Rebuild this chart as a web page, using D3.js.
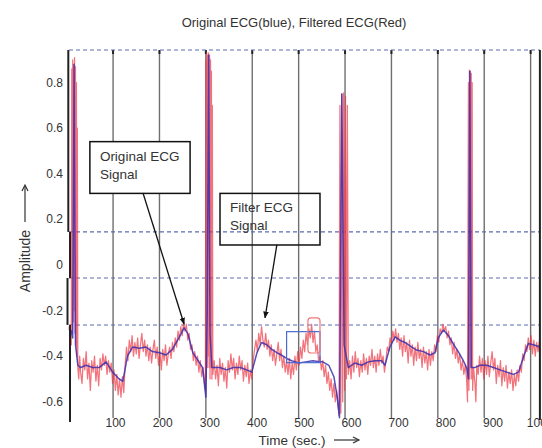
<!DOCTYPE html>
<html><head><meta charset="utf-8">
<script src="https://cdn.jsdelivr.net/npm/d3@7"></script>
<style>body{margin:0;background:#fff}svg{display:block}text{font-family:"Liberation Sans",Arial,sans-serif;fill:#333}</style>
</head><body><svg id="c" width="542" height="448"></svg>
<script>
const xTicks=[100,200,300,400,500,600,700,800,900,1000];
const yTicks=[0.8,0.6,0.4,0.2,0,-0.2,-0.4,-0.6];
const levels=[0.943,0.145,-0.057,-0.263];
const title="Original ECG(blue), Filtered ECG(Red)";
const xLabel="Time (sec.)";
const yLabel="Amplitude";
// original ECG (blue): [time, amplitude]
const blue=[[5,-0.28],[10,-0.29],[13,-0.32],[16,0.88],[19,-0.35],[24,-0.44],[30,-0.45],[42,-0.44],[56,-0.45],[70,-0.45],[85,-0.425],[99,-0.47],[113,-0.50],[121,-0.51],[131,-0.40],[142,-0.36],[157,-0.365],[171,-0.36],[185,-0.38],[200,-0.385],[214,-0.395],[228,-0.37],[243,-0.315],[253,-0.276],[261,-0.30],[272,-0.385],[282,-0.415],[293,-0.45],[300,-0.58],[303,-0.2],[306,0.92],[309,-0.3],[313,-0.45],[330,-0.45],[345,-0.46],[359,-0.45],[374,-0.45],[388,-0.46],[399,-0.47],[410,-0.386],[420,-0.34],[431,-0.35],[442,-0.37],[453,-0.385],[463,-0.395],[474,-0.41],[485,-0.42],[500,-0.43],[515,-0.425],[530,-0.42],[546,-0.424],[551,-0.424],[565,-0.44],[576,-0.49],[583,-0.578],[588,-0.67],[593,0.75],[598,-0.35],[607,-0.45],[621,-0.43],[636,-0.44],[650,-0.425],[665,-0.42],[679,-0.42],[686,-0.44],[697,-0.358],[708,-0.315],[718,-0.33],[729,-0.34],[740,-0.355],[754,-0.373],[769,-0.38],[783,-0.395],[794,-0.385],[801,-0.32],[812,-0.285],[823,-0.31],[833,-0.345],[844,-0.38],[855,-0.42],[862,-0.45],[866,-0.5],[869,0.85],[872,-0.45],[880,-0.45],[891,-0.44],[905,-0.44],[920,-0.45],[934,-0.46],[948,-0.47],[963,-0.48],[974,-0.47],[985,-0.40],[995,-0.345],[1006,-0.35],[1020,-0.36]];
// filtered ECG (red): [time, amplitude]
const red=[[5,-0.27],[7,-0.30],[9,-0.26],[10,-0.35],[11,0.86],[12,-0.30],[13,0.90],[14,-0.25],[15,0.88],[16,-0.20],[17,0.91],[18,-0.30],[19,0.87],[20,-0.35],[21,0.80],[22,-0.40],[23,0.6],[24,-0.45],
[26,-0.50],[28,-0.40],[30,-0.47],[33,-0.52],[36,-0.41],[39,-0.46],[42,-0.38],[45,-0.50],[48,-0.43],[51,-0.55],[54,-0.42],[57,-0.47],[60,-0.40],[63,-0.51],[66,-0.44],[69,-0.53],[72,-0.41],[75,-0.46],[78,-0.39],[81,-0.44],[84,-0.40],[87,-0.48],[90,-0.42],[93,-0.47],[96,-0.43],[99,-0.52],[102,-0.46],[105,-0.55],[108,-0.48],[111,-0.57],[114,-0.50],[117,-0.58],[120,-0.49],[123,-0.56],[126,-0.44],[129,-0.36],[132,-0.42],[135,-0.33],[138,-0.38],[141,-0.31],[144,-0.40],[147,-0.34],[150,-0.39],[153,-0.32],[156,-0.41],[159,-0.35],[162,-0.30],[165,-0.38],[168,-0.33],[171,-0.40],[174,-0.35],[177,-0.42],[180,-0.36],[183,-0.43],[186,-0.37],[189,-0.33],[192,-0.41],[195,-0.36],[198,-0.44],[201,-0.38],[204,-0.46],[207,-0.37],[210,-0.42],[213,-0.35],[216,-0.44],[219,-0.39],[222,-0.36],[225,-0.41],[228,-0.34],[231,-0.38],[234,-0.32],[237,-0.36],[240,-0.29],[243,-0.33],[246,-0.27],[249,-0.31],[252,-0.25],[255,-0.29],[258,-0.26],[261,-0.33],[264,-0.30],[267,-0.37],[270,-0.35],[273,-0.42],[276,-0.38],[279,-0.44],[282,-0.40],[285,-0.47],[288,-0.42],[291,-0.49],[294,-0.45],[297,-0.52],
[299,-0.55],[300,0.90],[301,-0.50],[302,0.93],[303,-0.45],[304,0.92],[305,-0.40],[306,0.93],[307,-0.45],[308,0.92],[309,-0.50],[310,0.90],[311,-0.45],[312,0.85],[313,-0.50],[314,0.7],[315,-0.48],
[318,-0.42],[321,-0.50],[324,-0.44],[327,-0.53],[330,-0.41],[333,-0.48],[336,-0.43],[339,-0.51],[342,-0.45],[345,-0.54],[348,-0.42],[351,-0.47],[354,-0.39],[357,-0.46],[360,-0.41],[363,-0.50],[366,-0.43],[369,-0.48],[372,-0.40],[375,-0.46],[378,-0.42],[381,-0.51],[384,-0.44],[387,-0.49],[390,-0.43],[393,-0.52],[396,-0.46],[399,-0.50],[402,-0.42],[405,-0.37],[408,-0.33],[411,-0.38],[414,-0.30],[417,-0.35],[420,-0.27],[423,-0.33],[426,-0.36],[429,-0.30],[432,-0.37],[435,-0.33],[438,-0.40],[441,-0.35],[444,-0.42],[447,-0.37],[450,-0.44],[453,-0.39],[456,-0.34],[459,-0.42],[462,-0.37],[465,-0.45],[468,-0.40],[471,-0.47],[474,-0.42],[477,-0.48],[480,-0.41],[483,-0.50],[486,-0.43],[489,-0.48],[492,-0.40],[495,-0.46],[498,-0.38],[501,-0.44],[504,-0.36],[507,-0.41],[510,-0.33],[513,-0.38],[516,-0.30],[519,-0.35],[522,-0.28],[525,-0.32],[528,-0.26],[531,-0.34],[534,-0.29],[537,-0.38],[540,-0.35],[543,-0.42],[546,-0.40],[549,-0.46],[552,-0.42],[555,-0.49],[558,-0.44],[561,-0.52],[564,-0.47],[567,-0.55],[570,-0.50],[573,-0.58],[576,-0.52],[579,-0.60],[582,-0.55],[585,-0.62],
[587,-0.66],[589,0.70],[591,-0.65],[593,0.75],[595,-0.60],[597,0.755],[599,-0.55],[601,0.74],[603,-0.50],[605,0.70],[607,-0.48],
[610,-0.42],[613,-0.50],[616,-0.40],[619,-0.47],[622,-0.38],[625,-0.45],[628,-0.41],[631,-0.49],[634,-0.42],[637,-0.47],[640,-0.39],[643,-0.46],[646,-0.41],[649,-0.48],[652,-0.40],[655,-0.44],[658,-0.37],[661,-0.45],[664,-0.40],[667,-0.47],[670,-0.39],[673,-0.44],[676,-0.37],[679,-0.43],[682,-0.40],[685,-0.47],[688,-0.42],[691,-0.36],[694,-0.38],[697,-0.32],[700,-0.35],[703,-0.29],[706,-0.33],[709,-0.28],[712,-0.34],[715,-0.30],[718,-0.37],[721,-0.32],[724,-0.40],[727,-0.31],[730,-0.38],[733,-0.34],[736,-0.43],[739,-0.33],[742,-0.40],[745,-0.35],[748,-0.44],[751,-0.36],[754,-0.42],[757,-0.34],[760,-0.41],[763,-0.37],[766,-0.45],[769,-0.36],[772,-0.43],[775,-0.38],[778,-0.46],[781,-0.37],[784,-0.44],[787,-0.38],[790,-0.42],[793,-0.35],[796,-0.38],[799,-0.31],[802,-0.34],[805,-0.28],[808,-0.30],[811,-0.26],[814,-0.29],[817,-0.27],[820,-0.32],[823,-0.29],[826,-0.35],[829,-0.32],[832,-0.39],[835,-0.34],[838,-0.41],[841,-0.37],[844,-0.43],[847,-0.39],[850,-0.46],[853,-0.42],[856,-0.48],[859,-0.44],[862,-0.50],
[864,-0.60],[866,0.80],[867,-0.55],[868,0.855],[869,-0.50],[870,0.85],[871,-0.45],[872,0.84],[873,-0.50],[874,0.80],[875,-0.55],[877,-0.45],[880,-0.52],[882,-0.60],[884,-0.44],
[887,-0.48],[890,-0.40],[893,-0.47],[896,-0.41],[899,-0.50],[902,-0.42],[905,-0.48],[908,-0.40],[911,-0.49],[914,-0.43],[917,-0.38],[920,-0.46],[923,-0.41],[926,-0.52],[929,-0.44],[932,-0.49],[935,-0.42],[938,-0.53],[941,-0.45],[944,-0.51],[947,-0.44],[950,-0.54],[953,-0.47],[956,-0.52],[959,-0.46],[962,-0.55],[965,-0.48],[968,-0.53],[971,-0.46],[974,-0.51],[977,-0.44],[980,-0.47],[983,-0.39],[986,-0.42],[989,-0.35],[992,-0.38],[995,-0.32],[998,-0.37],[1001,-0.31],[1004,-0.39],[1007,-0.33],[1010,-0.40],[1013,-0.34],[1016,-0.38],[1019,-0.33]];
// marker boxes [t0,t1,v0,v1]
const blueBox=[474,546,-0.4285,-0.2925];
const redBox=[520,546,-0.386,-0.232];
const notes=[
 {lines:["Original ECG","Signal"],t0:50,t1:266,v0:0.314,v1:0.541,from:[164.5,0.316],to:[253,-0.259],fill:"#fff"},
 {lines:["Filter ECG","Signal"],t0:330.5,t1:546,v0:0.0877,v1:0.314,from:[453,0.088],to:[427.5,-0.232],fill:"none"}
];

const svg=d3.select("#c");
const x=d3.scaleLinear().domain([5,1020]).range([69,539.9]);
const xl=d3.scaleLinear().domain([5,1020]).range([70.7,549.6]);
const y=d3.scaleLinear().domain([-0.68,0.943]).range([420,50]);
const [t0,t1]=x.domain(), [vmin,vmax]=y.domain();

svg.append("defs").append("marker").attr("id","ah").attr("viewBox","0 0 10 10").attr("refX",9).attr("refY",5)
 .attr("markerWidth",7).attr("markerHeight",7).attr("orient","auto-start-reverse").attr("markerUnits","userSpaceOnUse")
 .append("path").attr("d","M0,1 L10,5 L0,9 Z").attr("fill","#111");

// vertical grid
const g=svg.append("g");
g.selectAll("line.v").data(xTicks).join("line").attr("class","v")
 .attr("x1",d=>x(d)).attr("x2",d=>x(d)).attr("y1",y(vmax)).attr("y2",y(vmin)-2)
 .attr("stroke","#6f6f6f").attr("stroke-width",1.4);
g.selectAll("line.tt").data(xTicks).join("line").attr("class","tt")
 .attr("x1",d=>x(d)).attr("x2",d=>x(d)).attr("y1",y(vmax)).attr("y2",y(vmax)+4)
 .attr("stroke","#222").attr("stroke-width",2);
// dashed levels
g.selectAll("line.h").data(levels).join("line").attr("class","h")
 .attr("x1",x(t0)).attr("x2",x(t1)).attr("y1",d=>y(d)).attr("y2",d=>y(d))
 .attr("stroke","#5a6cb4").attr("stroke-width",1.1).attr("stroke-dasharray","4,3");

const line=d3.line().x(d=>x(d[0])).y(d=>y(d[1]));
svg.append("path").datum(red).attr("d",line).attr("fill","none")
 .attr("stroke","#ec3844").attr("stroke-opacity",0.7).attr("stroke-width",1.25).attr("stroke-linejoin","round");
svg.append("path").datum(blue).attr("d",line).attr("fill","none")
 .attr("stroke","#3a2fae").attr("stroke-opacity",0.85).attr("stroke-width",1.5).attr("stroke-linejoin","round");

// marker boxes
[[blueBox,"#4a6ad0"],[redBox,"#f07878"]].forEach(([b,c])=>{
 svg.append("rect").attr("x",x(b[0])).attr("y",y(b[3])).attr("width",x(b[1])-x(b[0])).attr("height",y(b[2])-y(b[3]))
  .attr("fill","none").attr("stroke",c).attr("stroke-width",1.2).attr("rx",c==="#f07878"?3:0);
});

// left axis (stacked segments) and right border
const segs=[[levels[0],levels[1],-0.7],[levels[1],levels[2],1],[levels[2],levels[3],-1.5],[levels[3],vmin,1]];
segs.forEach(s=>{
 svg.append("line").attr("x1",x(t0)+s[2]).attr("x2",x(t0)+s[2]).attr("y1",y(s[0])).attr("y2",y(s[1])+(s[1]===vmin?2:0))
  .attr("stroke","#222").attr("stroke-width",2);
});
svg.append("line").attr("x1",x(t1)).attr("x2",x(t1)).attr("y1",y(vmax)).attr("y2",y(vmin)).attr("stroke","#222").attr("stroke-width",2);

// annotations
notes.forEach(n=>{
 const bx=x(n.t0), by=y(n.v1);
 svg.append("rect").attr("x",bx).attr("y",by).attr("width",x(n.t1)-bx).attr("height",y(n.v0)-by)
  .attr("fill",n.fill).attr("stroke","#111").attr("stroke-width",1.5);
 n.lines.forEach((l,i)=>svg.append("text").attr("x",bx+10).attr("y",by+19+i*18).attr("font-size",13.5).text(l));
 svg.append("line").attr("x1",x(n.from[0])).attr("y1",y(n.from[1])).attr("x2",x(n.to[0])).attr("y2",y(n.to[1]))
  .attr("stroke","#111").attr("stroke-width",1.3).attr("marker-end","url(#ah)");
});

// tick labels
svg.selectAll("text.xt").data(xTicks).join("text").attr("class","xt")
 .attr("x",d=>xl(d)).attr("y",427).attr("text-anchor","middle").attr("font-size",12).text(d=>d);
svg.selectAll("text.yt").data(yTicks).join("text").attr("class","yt")
 .attr("x",63).attr("y",d=>y(d)+4).attr("text-anchor","end").attr("font-size",12).text(d=>d3.format("")(d).replace("−","-"));

// title and axis labels
svg.append("text").attr("x",294).attr("y",27).attr("text-anchor","middle").attr("font-size",13).text(title);
svg.append("text").attr("x",292).attr("y",444.5).attr("text-anchor","middle").attr("font-size",13.5).text(xLabel);
svg.append("line").attr("x1",334).attr("x2",358).attr("y1",440).attr("y2",440).attr("stroke","#333").attr("stroke-width",1.2);
svg.append("path").attr("d","M353,437 L359,440 L353,443").attr("fill","none").attr("stroke","#333").attr("stroke-width",1.2);
svg.append("text").attr("transform","translate(30,261) rotate(-90)").attr("text-anchor","middle").attr("font-size",14).text(yLabel);
svg.append("line").attr("x1",25).attr("x2",25).attr("y1",222).attr("y2",186).attr("stroke","#333").attr("stroke-width",1.2);
svg.append("path").attr("d","M22,191 L25,185 L28,191").attr("fill","none").attr("stroke","#333").attr("stroke-width",1.2);
</script></body></html>
